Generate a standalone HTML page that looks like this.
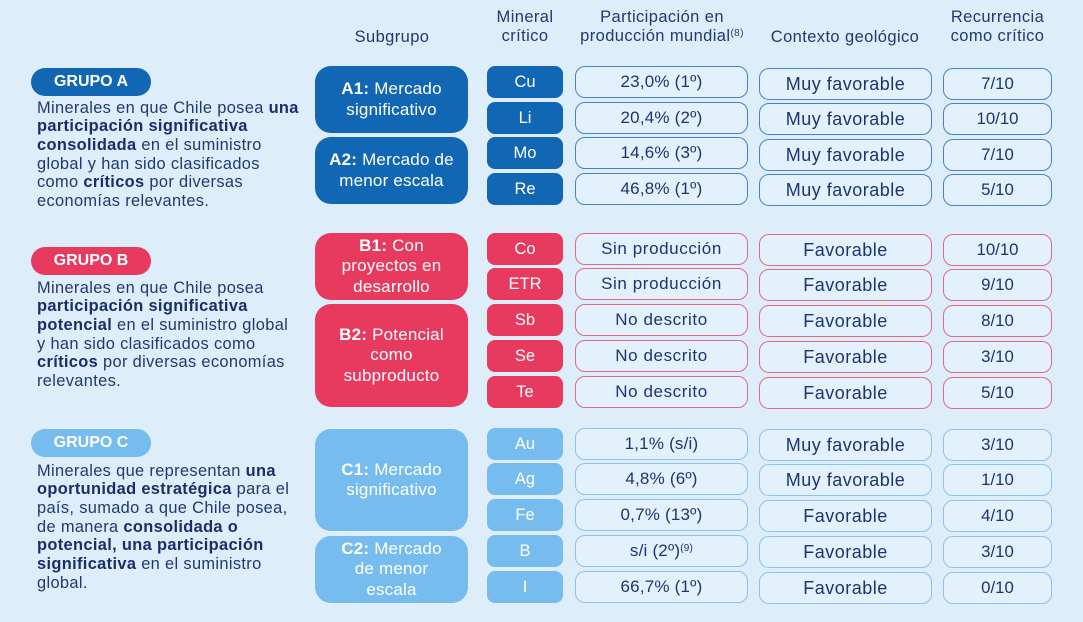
<!DOCTYPE html>
<html><head><meta charset="utf-8">
<style>
*{margin:0;padding:0;box-sizing:border-box}
body{width:1083px;height:622px;background:#ddeefa;font-family:"Liberation Sans",sans-serif;color:#1d3470;position:relative;overflow:hidden}
.hd{position:absolute;font-size:16.5px;line-height:19px;text-align:center;color:#22386f;letter-spacing:0.4px;white-space:nowrap}
.pill{position:absolute;left:31px;width:120px;height:28px;border-radius:14px;color:#fff;font-weight:bold;font-size:16px;display:flex;align-items:center;justify-content:center}
.par{position:absolute;left:37px;font-size:16.4px;line-height:18.7px;letter-spacing:0.35px;color:#22386f;white-space:nowrap}
.par b{color:#1b2d69}
.sg{position:absolute;left:315px;width:153px;border-radius:16px;color:#fff;font-size:17px;line-height:20.5px;text-align:center;display:flex;align-items:center;justify-content:center;letter-spacing:0.2px}
.mn{position:absolute;left:487px;width:76px;height:32px;border-radius:8px;color:#fff;font-size:16.5px;display:flex;align-items:center;justify-content:center}
.c{position:absolute;height:32px;border-radius:10px;border:1.3px solid;background:#e3f1fc;font-size:17.5px;display:flex;align-items:center;justify-content:center;color:#1d3470;letter-spacing:0.2px;white-space:nowrap}
.p{left:575px;width:173px;font-size:17px}
.g{left:759px;width:173px;font-size:18px;letter-spacing:0.5px}
.r{left:943px;width:109px;font-size:16.8px;letter-spacing:0}
.wide{letter-spacing:0.6px}
.A{background:#1167b3}
.B{background:#e8395f}
.C{background:#76bcef}
.bA{border-color:#4683c4}
.bB{border-color:#df6a86}
.bC{border-color:#8cc2ea}
sup{font-size:10px;vertical-align:top;position:relative;top:-3px}
</style></head><body>

<div class="hd" style="left:332px;top:28px;width:120px">Subgrupo</div>
<div class="hd" style="left:475px;top:8px;width:100px">Mineral<br>crítico</div>
<div class="hd" style="left:552px;top:8px;width:220px">Participación en<br>producción mundial<sup>(8)</sup></div>
<div class="hd" style="left:745px;top:28px;width:200px">Contexto geológico</div>
<div class="hd" style="left:920px;top:8px;width:155px">Recurrencia<br>como crítico</div>

<!-- GROUP A -->
<div class="pill A" style="top:68px">GRUPO A</div>
<div class="par" style="top:98.6px">Minerales en que Chile posea <b>una</b><br><b>participación significativa</b><br><b>consolidada</b> en el suministro<br>global y han sido clasificados<br>como <b>críticos</b> por diversas<br>economías relevantes.</div>
<div class="sg A" style="top:66px;height:67px"><div><b>A1:</b> Mercado<br>significativo</div></div>
<div class="sg A" style="top:137px;height:67px"><div><b>A2:</b> Mercado de<br>menor escala</div></div>

<div class="mn A" style="top:66px">Cu</div>
<div class="mn A" style="top:102px">Li</div>
<div class="mn A" style="top:137px">Mo</div>
<div class="mn A" style="top:173px">Re</div>
<div class="c p bA" style="top:66px">23,0% (1º)</div>
<div class="c p bA" style="top:102px">20,4% (2º)</div>
<div class="c p bA" style="top:137px">14,6% (3º)</div>
<div class="c p bA" style="top:173px">46,8% (1º)</div>
<div class="c g bA" style="top:68px">Muy favorable</div>
<div class="c g bA" style="top:103px">Muy favorable</div>
<div class="c g bA" style="top:139px">Muy favorable</div>
<div class="c g bA" style="top:174px">Muy favorable</div>
<div class="c r bA" style="top:68px">7/10</div>
<div class="c r bA" style="top:103px">10/10</div>
<div class="c r bA" style="top:139px">7/10</div>
<div class="c r bA" style="top:174px">5/10</div>

<!-- GROUP B -->
<div class="pill B" style="top:247px">GRUPO B</div>
<div class="par" style="top:278.6px">Minerales en que Chile posea<br><b>participación significativa</b><br><b>potencial</b> en el suministro global<br>y han sido clasificados como<br><b>críticos</b> por diversas economías<br>relevantes.</div>
<div class="sg B" style="top:233px;height:67px"><div><b>B1:</b> Con<br>proyectos en<br>desarrollo</div></div>
<div class="sg B" style="top:304px;height:103px"><div><b>B2:</b> Potencial<br>como<br>subproducto</div></div>

<div class="mn B" style="top:233px">Co</div>
<div class="mn B" style="top:268px">ETR</div>
<div class="mn B" style="top:304px">Sb</div>
<div class="mn B" style="top:340px">Se</div>
<div class="mn B" style="top:376px">Te</div>
<div class="c p bB wide" style="top:233px">Sin producción</div>
<div class="c p bB wide" style="top:268px">Sin producción</div>
<div class="c p bB wide" style="top:304px">No descrito</div>
<div class="c p bB wide" style="top:340px">No descrito</div>
<div class="c p bB wide" style="top:376px">No descrito</div>
<div class="c g bB" style="top:234px">Favorable</div>
<div class="c g bB" style="top:269px">Favorable</div>
<div class="c g bB" style="top:305px">Favorable</div>
<div class="c g bB" style="top:341px">Favorable</div>
<div class="c g bB" style="top:377px">Favorable</div>
<div class="c r bB" style="top:234px">10/10</div>
<div class="c r bB" style="top:269px">9/10</div>
<div class="c r bB" style="top:305px">8/10</div>
<div class="c r bB" style="top:341px">3/10</div>
<div class="c r bB" style="top:377px">5/10</div>

<!-- GROUP C -->
<div class="pill C" style="top:429px">GRUPO C</div>
<div class="par" style="top:461.6px">Minerales que representan <b>una</b><br><b>oportunidad estratégica</b> para el<br>país, sumado a que Chile posea,<br>de manera <b>consolidada o</b><br><b>potencial, una participación</b><br><b>significativa</b> en el suministro<br>global.</div>
<div class="sg C" style="top:429px;height:102px"><div><b>C1:</b> Mercado<br>significativo</div></div>
<div class="sg C" style="top:536px;height:67px"><div><b>C2:</b> Mercado<br>de menor<br>escala</div></div>

<div class="mn C" style="top:428px">Au</div>
<div class="mn C" style="top:463px">Ag</div>
<div class="mn C" style="top:499px">Fe</div>
<div class="mn C" style="top:535px">B</div>
<div class="mn C" style="top:571px">I</div>
<div class="c p bC" style="top:428px">1,1% (s/i)</div>
<div class="c p bC" style="top:463px">4,8% (6º)</div>
<div class="c p bC" style="top:499px">0,7% (13º)</div>
<div class="c p bC" style="top:535px">s/i (2º)<sup>(9)</sup></div>
<div class="c p bC" style="top:571px">66,7% (1º)</div>
<div class="c g bC" style="top:429px">Muy favorable</div>
<div class="c g bC" style="top:464px">Muy favorable</div>
<div class="c g bC" style="top:500px">Favorable</div>
<div class="c g bC" style="top:536px">Favorable</div>
<div class="c g bC" style="top:572px">Favorable</div>
<div class="c r bC" style="top:429px">3/10</div>
<div class="c r bC" style="top:464px">1/10</div>
<div class="c r bC" style="top:500px">4/10</div>
<div class="c r bC" style="top:536px">3/10</div>
<div class="c r bC" style="top:572px">0/10</div>

</body></html>
